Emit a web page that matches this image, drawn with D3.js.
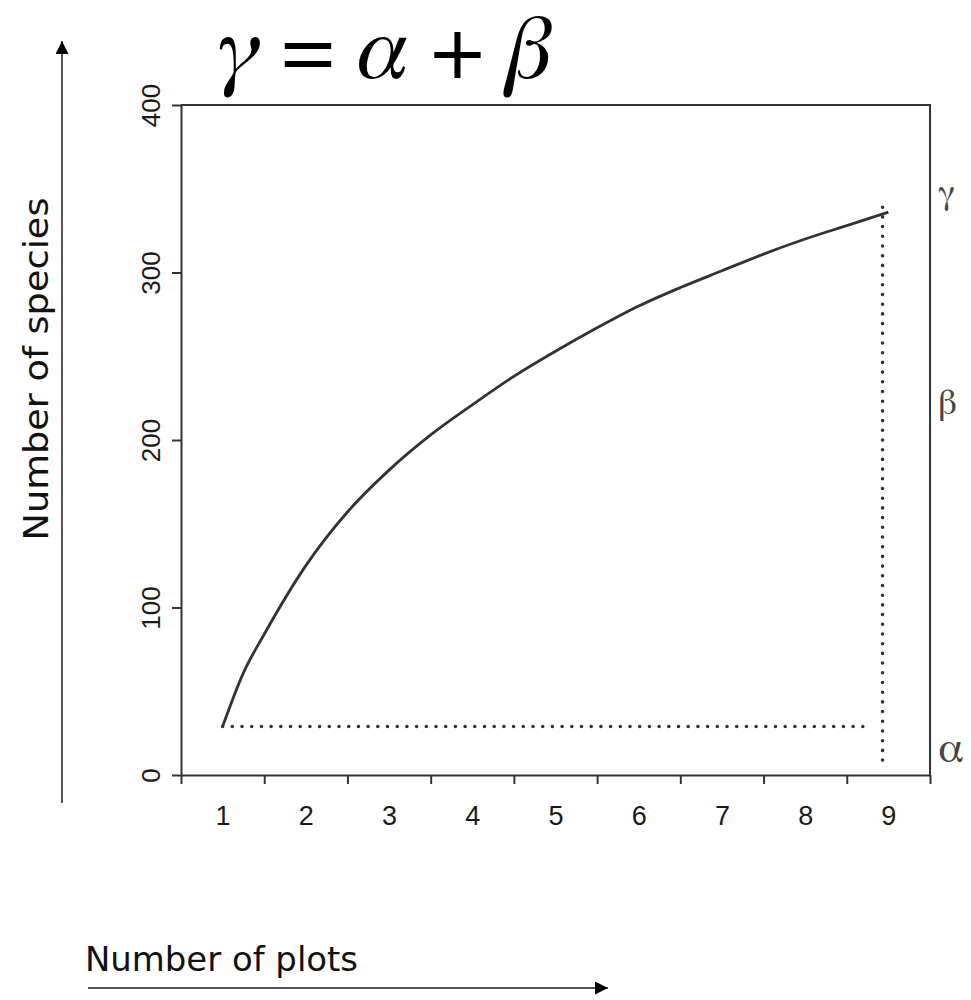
<!DOCTYPE html>
<html>
<head>
<meta charset="utf-8">
<script src="https://cdn.jsdelivr.net/npm/d3@7"></script>
<style>
  html,body{margin:0;padding:0;background:#fff;}
  svg{display:block;}
  .tick text{font-family:"Liberation Sans",Arial,sans-serif;fill:#1a1a1a;}
  .serif{font-family:FreeSerif,"Times New Roman",serif;}
</style>
</head>
<body>
<svg id="chart" width="971" height="1000"></svg>
<script>
// ── data ──
const PLOTS   = [1, 1.25, 1.5, 2, 2.5, 3, 3.5, 4, 4.5, 5, 5.5, 6, 6.5, 7, 7.5, 8, 8.5, 9];
const SPECIES = [29, 61, 84, 125, 157, 182, 203, 221, 238, 253, 267, 280, 291, 301, 311, 320, 328, 336];
const X_LABELS = [1, 2, 3, 4, 5, 6, 7, 8, 9];
const Y_TICKS  = [0, 100, 200, 300, 400];
const ALPHA = 29, GAMMA = 339;          // dotted guide levels
const ALPHA_END = 8.7, GAMMA_X = 8.93;  // where the guides stop / stand
const SIDE = [{t:"γ", y:203, size:34}, {t:"β", y:414, size:36}, {t:"α", y:762, size:44}];

const svg=d3.select("#chart");
const m={l:181,r:930,t:105,b:775};
const x=d3.scaleLinear().domain([0.5,9.5]).range([m.l,m.r]);
const y=d3.scaleLinear().domain([0,400]).range([m.b,m.t]);
const ink="#333";

// ── frame (top + right), axes ──
svg.append("path").attr("d",`M${m.l},${m.t}H${m.r}V${m.b}`)
  .attr("fill","none").attr("stroke",ink).attr("stroke-width",2);

const ya=svg.append("g").attr("transform",`translate(${m.l},0)`)
  .call(d3.axisLeft(y).tickValues(Y_TICKS).tickSize(9).tickSizeOuter(0))
  .attr("font-size",26);
ya.selectAll("text").attr("transform","rotate(-90)").attr("x",0).attr("y",-21).attr("dy",0)
  .attr("text-anchor","middle");

// ticks between categories, labels centered on them
const bounds=d3.range(0,10).map(i=>i+0.5);
svg.append("g").attr("transform",`translate(0,${m.b})`)
  .call(d3.axisBottom(x).tickValues(bounds).tickSize(9).tickSizeOuter(0).tickFormat(""));
svg.append("g").attr("transform",`translate(0,${m.b})`)
  .call(d3.axisBottom(x).tickValues(X_LABELS).tickSize(0).tickPadding(31).tickFormat(d3.format("d")))
  .attr("font-size",27)
  .call(g=>g.select(".domain").remove());
svg.selectAll(".domain,.tick line").attr("stroke",ink).attr("stroke-width",2);

// ── dotted guides ──
const dots=sel=>sel.attr("fill","none").attr("stroke",ink).attr("stroke-width",3.6)
  .attr("stroke-linecap","round").attr("stroke-dasharray","0 9.7");
svg.append("line").attr("x1",x(PLOTS[0])).attr("x2",x(ALPHA_END)).attr("y1",y(ALPHA)).attr("y2",y(ALPHA)).call(dots);
svg.append("line").attr("x1",x(GAMMA_X)).attr("x2",x(GAMMA_X)).attr("y1",y(GAMMA)).attr("y2",y(5)).call(dots);

// ── accumulation curve ──
const line=d3.line().x((d,i)=>x(PLOTS[i])).y(d=>y(d)).curve(d3.curveMonotoneX);
svg.append("path").datum(SPECIES).attr("d",line)
  .attr("fill","none").attr("stroke",ink).attr("stroke-width",2.8);

// ── greek labels on the right ──
svg.selectAll("text.side").data(SIDE).join("text").attr("class","side serif")
  .attr("x",938).attr("y",d=>d.y)
  .attr("font-size",d=>d.size).attr("fill","#444").text(d=>d.t);

// ── title formula ──
const tt=svg.append("text").attr("class","serif").attr("x",385).attr("y",78).attr("text-anchor","middle")
  .attr("font-size",92).attr("fill","#000");
[["γ",1],[" = ",0],["α",1],[" + ",0],["β",1]].forEach(([s,it])=>
  tt.append("tspan").attr("font-style",it?"italic":"normal").text(s));

// ── axis titles with arrows ──
svg.append("defs").append("marker").attr("id","ah").attr("viewBox","0 0 10 10")
  .attr("refX",10).attr("refY",5).attr("markerWidth",14).attr("markerHeight",13)
  .attr("markerUnits","userSpaceOnUse").attr("orient","auto")
  .append("path").attr("d","M0,0L10,5L0,10z").attr("fill","#000");

svg.append("line").attr("x1",62).attr("x2",62).attr("y1",803).attr("y2",41)
  .attr("stroke","#555").attr("stroke-width",2).attr("marker-end","url(#ah)");
svg.append("line").attr("x1",88).attr("x2",608).attr("y1",988).attr("y2",988)
  .attr("stroke","#555").attr("stroke-width",2).attr("marker-end","url(#ah)");

svg.append("text").attr("transform","translate(48,369) rotate(-90)").attr("text-anchor","middle")
  .attr("font-family","'DejaVu Sans',Verdana,sans-serif").attr("font-size",34)
  .attr("textLength",343).attr("lengthAdjust","spacingAndGlyphs").attr("fill","#111")
  .text("Number of species");
svg.append("text").attr("x",85).attr("y",971)
  .attr("font-family","'DejaVu Sans',Verdana,sans-serif").attr("font-size",33)
  .attr("textLength",273).attr("lengthAdjust","spacingAndGlyphs").attr("fill","#111")
  .text("Number of plots");
</script>
</body>
</html>
